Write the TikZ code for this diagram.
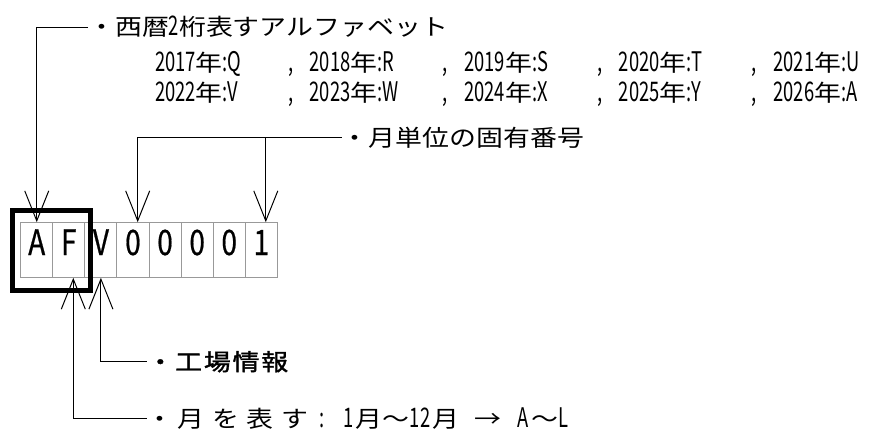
\documentclass[tikz,border=0pt]{standalone}
\usepackage{fontspec}
\usetikzlibrary{arrows.meta,calc}
\newfontfamily\cjf[FakeStretch=1.17]{Noto Sans CJK JP}
\newfontfamily\cjb[FakeStretch=1.17,FakeBold=1.6]{Noto Sans CJK JP}
\newfontfamily\laf[FakeStretch=0.68]{Noto Sans CJK JP}
\newfontfamily\cellf[FakeStretch=0.8,FakeBold=0.6]{Noto Sans CJK JP}
\newcommand\LA[1]{{\laf\fontsize{27pt}{27pt}\selectfont #1}}
\newcommand\yitem[2]{\makebox[133pt][l]{\LA{#1}年\LA{:#2}}}
\newcommand\ysep{\makebox[21.6pt][l]{\LA{,}}}
\newcommand\cb[2]{\makebox[#1pt][l]{#2}}
\begin{document}
\begin{tikzpicture}[x=1pt,y=-1pt,
  txt/.style={inner sep=0pt, font=\cjf\fontsize{23pt}{27pt}\selectfont},
  cell/.style={draw=black!40, line width=1pt, minimum width=32.1pt, minimum height=54.6pt, inner sep=0pt, text height=26pt, text depth=16pt, font=\cellf\fontsize{35pt}{35pt}\selectfont},
  arr/.style={line width=1pt, -{Straight Barb[length=30pt,width=24pt]}},
  framebox/.style={draw, line width=5pt, minimum width=78pt, minimum height=80pt, inner sep=0pt}]
\useasboundingbox (0,0) rectangle (891,431);
\foreach \t [count=\i] in {A,F,V,0,0,0,0,1}
  \node[cell] (c\i) at ({20.7+32.08*(\i-0.5)},250) {\t};
\node[framebox] (box) at (51.5,250) {};
\node[txt, anchor=west] (t1) at (88,27) {・西暦\LA{2}桁表すアルファベット};
\node[txt, anchor=base west] (y1) at (155,71.5) {\yitem{2017}{Q}\ysep\yitem{2018}{R}\ysep\yitem{2019}{S}\ysep\yitem{2020}{T}\ysep\LA{2021}年\LA{:U}};
\node[txt, anchor=base west] (y2) at (155,101.5) {\yitem{2022}{V}\ysep\yitem{2023}{W}\ysep\yitem{2024}{X}\ysep\yitem{2025}{Y}\ysep\LA{2026}年\LA{:A}};
\node[txt, anchor=west] (t2) at (341.7,137.7) {・月単位の固有番号};
\node[txt, anchor=west, font=\cjb\fontsize{23pt}{27pt}\selectfont] (t3) at (146.7,361.7)
  {\cb{28.3}{・}\cb{28.7}{工}\cb{28.7}{場}\cb{28.7}{情}報};
\node[txt, anchor=west] (t4) at (146.7,418.3)
  {\cb{31}{・}\cb{34.5}{月}\cb{34.5}{を}\cb{34.5}{表}\cb{34.5}{す}\cb{27.5}{\hspace{4pt}\LA{:}}\cb{12.5}{\LA{1}}\cb{27}{月}\cb{27}{〜}\cb{23}{\LA{12}}\cb{27}{月}\cb{58}{\hspace{15pt}→}\cb{13.5}{\LA{A}}\cb{27.5}{〜}\LA{L}};
\coordinate (p4) at ($(c4.north)+(4.7,0)$);
\coordinate (p8) at ($(c8.north)+(4.5,0)$);
\coordinate (q2) at ($(c2.south)+(4.5,0)$);
\draw[arr] (t1.west) -| (c1.north);
\draw[arr] (t2.west) -| (p4);
\draw[arr] (p8 |- t2.west) -- (p8);
\draw[arr] (t3.west) -| (c3.south);
\draw[arr] (t4.west) -| (q2);
\end{tikzpicture}
\end{document}
